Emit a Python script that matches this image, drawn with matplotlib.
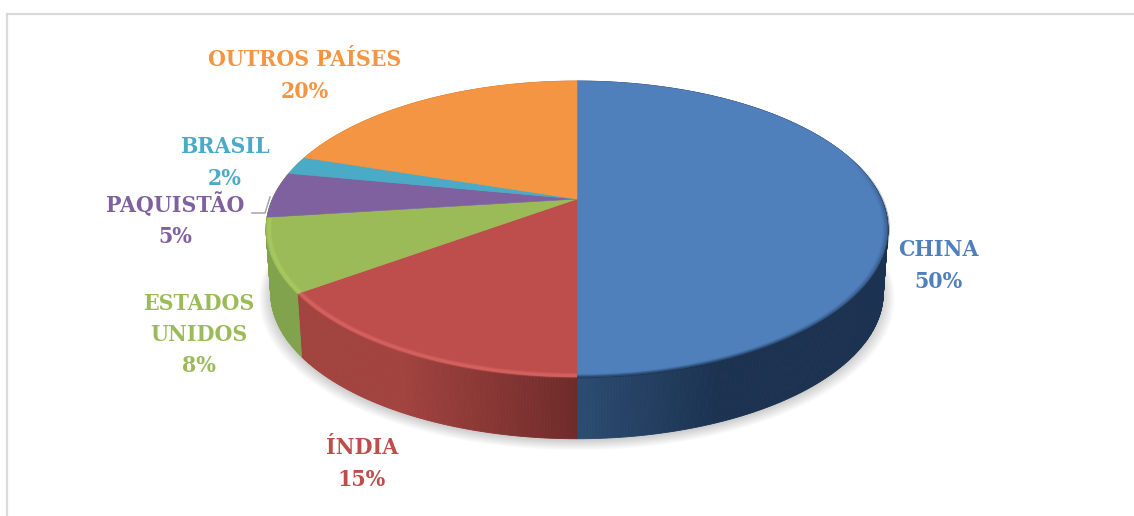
import numpy as np
import matplotlib
matplotlib.use("Agg")
import matplotlib.pyplot as plt
from matplotlib.colors import to_rgb

# Data
countries = ["CHINA", "ÍNDIA", "ESTADOS\nUNIDOS", "PAQUISTÃO", "BRASIL", "OUTROS PAÍSES"]
shares = [50, 15, 8, 5, 2, 20]
slice_colors = ["#4f80bc", "#bd4e4b", "#9bbb59", "#8061a0", "#4babc6", "#f39542"]
side_left = ["#2c4c72", "#a2433f", "#82a34e", "#82a34e", "#82a34e", "#c97a35"]
side_right = ["#1b3250", "#6e2b2a", "#7c9b49", "#82a34e", "#82a34e", "#c97a35"]
label_xy = [(938, 266), (362, 464), (199, 335), (175, 220), (225, 163), (305, 76)]

W, H = 1134, 516
fig = plt.figure(figsize=(W / 100, H / 100), dpi=100)
ax = fig.add_axes([0, 0, 1, 1])
ax.set_xlim(0, W)
ax.set_ylim(H, 0)
ax.axis("off")

# chart frame
ax.plot([7, 7, W], [H, 14, 14], color="#d9d9d9", lw=1.6, solid_joinstyle="miter")

# perspective projection of the pie disc
CX, CY = 577.0, 199.0
K, A, B = 0.2027, 141.9, 304.5
EY = 229.0


def top(theta):
    x, y = np.sin(theta), np.cos(theta)
    w = 1 + K * y
    return CX + B * x / w, CY - A * y / w


def bottom(theta, s=0.985, d=64.0):
    X, Y = top(theta)
    return CX + (X - CX) * s, EY + (Y - EY) * s + d


def inner(theta, s):
    X, Y = top(theta)
    return CX + (X - CX) * s, EY + (Y - EY) * s


shares_arr = np.array(shares, float)
edges = np.radians(np.concatenate([[0], np.cumsum(shares_arr)]) * 3.6)

# soft shadow below the disc
full = np.linspace(0, 2 * np.pi, 361)
for s in np.linspace(1.022, 0.985, 12):
    X, Y = bottom(full, s=s, d=66.0 + (s - 0.985) * 110)
    ax.fill(X, Y, color="black", alpha=0.016, lw=0, zorder=1)

# side wall: thin strips shaded from left to right
xmin, xmax = 300.0, 720.0
for i in range(len(shares)):
    th = np.linspace(edges[i], edges[i + 1], max(int(shares[i] * 8), 8))
    cl, cr = np.array(to_rgb(side_left[i])), np.array(to_rgb(side_right[i]))
    if i == 0:
        lo, hi = 577.0, 720.0
    elif i == 1:
        lo, hi = 400.0, 577.0
    else:
        lo, hi = xmin, xmax
    for a, b in zip(th[:-1], th[1:]):
        x1, y1 = top(a)
        x2, y2 = top(b)
        x3, y3 = bottom(b)
        x4, y4 = bottom(a)
        t = np.clip((0.5 * (x1 + x2) - lo) / (hi - lo), 0, 1)
        c = cl + (cr - cl) * t
        ax.fill([x1, x2, x3, x4], [y1, y2, y3, y4], color=c, lw=0.6, zorder=2)

# top faces
for i in range(len(shares)):
    th = np.linspace(edges[i], edges[i + 1], max(int(shares[i] * 6), 12))
    X, Y = top(th)
    ax.fill(np.r_[CX, X], np.r_[CY, Y], color=slice_colors[i], lw=0.4, zorder=3)

# soft dark edge where the China face meets its wall, fading in from the back
th = np.linspace(np.radians(72), np.pi, 120)
fade = np.clip((th - th[0]) / np.radians(25), 0, 1)
for s, al in [(1.002, 0.45), (0.997, 0.28), (0.992, 0.16), (0.987, 0.08)]:
    X, Y = inner(th, s)
    for j in range(len(th) - 1):
        ax.plot(X[j:j + 2], Y[j:j + 2], color="#1b3250", lw=1.6, alpha=al * fade[j],
                zorder=4, solid_capstyle="butt")

# bevel highlights along the front rim
for i, col in [(1, "#e36c6b"), (2, "#aed062")]:
    th = np.linspace(edges[i], edges[i + 1], 80)
    for s, lw, al in [(0.990, 4.0, 0.22), (0.990, 2.2, 0.5)]:
        X, Y = inner(th, s)
        ax.plot(X, Y, color=col, lw=lw, alpha=al, zorder=4, solid_capstyle="butt")

# leader line of the Paquistão label
ax.plot([252, 265, 270], [213, 213, 197], color="#a6a6a6", lw=1.1, zorder=2)

# labels
for name, val, col, (x, y) in zip(countries, shares, slice_colors, label_xy):
    ax.text(x, y, f"{name}\n{val}%", color=col, ha="center", va="center",
            family="DejaVu Serif", stretch="condensed", weight="bold", fontsize=16.5,
            linespacing=1.54, zorder=6)

fig.savefig("out.png", dpi=100, facecolor="white")
